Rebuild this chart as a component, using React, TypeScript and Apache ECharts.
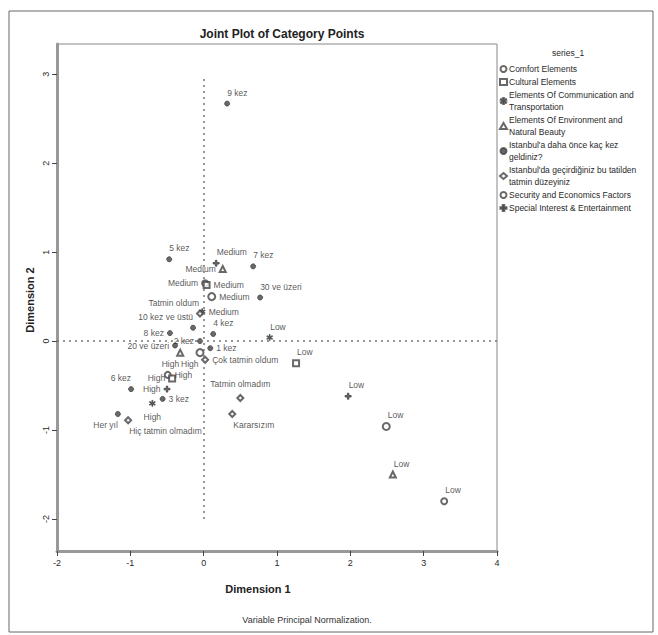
import React, { useEffect, useRef } from "react";
import * as echarts from "echarts";

const xTicks = [-2, -1, 0, 1, 2, 3, 4];
const yTicks = [-2, -1, 0, 1, 2, 3];

const seriesNames = [
  "Comfort Elements",
  "Cultural Elements",
  "Elements Of Communication and\nTransportation",
  "Elements Of Environment and\nNatural Beauty",
  "Istanbul'a daha önce kaç kez\ngeldiniz?",
  "Istanbul'da geçirdiğiniz bu tatilden\ntatmin düzeyiniz",
  "Security and Economics Factors",
  "Special Interest & Entertainment",
];

const lmh = ["Low", "Medium", "High"];

const comfortXY = [[3.28, -1.8], [0.02, 0.65], [-0.49, -0.38]];
const culturalXY = [[1.26, -0.25], [0.04, 0.63], [-0.43, -0.42]];
const communicationXY = [[0.9, 0.04], [-0.02, 0.33], [-0.7, -0.7]];
const environmentXY = [[2.58, -1.5], [0.26, 0.81], [-0.32, -0.13]];
const securityXY = [[2.49, -0.96], [0.11, 0.5], [-0.05, -0.13]];
const specialXY = [[1.97, -0.62], [0.17, 0.875], [-0.5, -0.54]];

const kezLabels = ["9 kez", "5 kez", "7 kez", "30 ve üzeri", "10 kez ve üstü", "4 kez", "8 kez", "20 ve üzeri", "2 kez", "1 kez", "3 kez", "6 kez", "Her yıl"];
const kezXY = [[0.32, 2.67], [-0.47, 0.92], [0.675, 0.84], [0.77, 0.49], [-0.145, 0.15], [0.13, 0.08], [-0.46, 0.09], [-0.39, -0.05], [-0.05, 0.0], [0.09, -0.08], [-0.56, -0.65], [-0.99, -0.54], [-1.17, -0.82]];

const tatminLabels = ["Tatmin oldum", "Çok tatmin oldum", "Tatmin olmadım", "Kararsızım", "Hiç tatmin olmadım"];
const tatminXY = [[-0.05, 0.31], [0.02, -0.21], [0.5, -0.64], [0.39, -0.82], [-1.03, -0.89]];

// label placement per point (layout only)
const comfortSide = ["tr", "l", "r"];
const culturalSide = ["tr", "r", "l"];
const communicationSide = ["tr", "r", "b"];
const environmentSide = ["tr", "l", "bl"];
const securitySide = ["tr", "r", "bl"];
const specialSide = ["tr", "tr", "l"];
const kezSide = ["tr", "tr", "tr", "tr", "tl", "tr", "l", "l", "l", "r", "r", "tl", "bl"];
const tatminSide = ["tl", "r", "t", "br", "br"];

const place: Record<string, any> = {
  tr: { position: "right", offset: [-8, -11] },
  tl: { position: "left", offset: [8, -11] },
  r: { position: "right", offset: [-2, 0] },
  l: { position: "left", offset: [2, 0] },
  t: { position: "top", offset: [0, -1] },
  b: { position: "bottom", offset: [0, 1] },
  br: { position: "right", offset: [-8, 11] },
  bl: { position: "left", offset: [8, 11] },
};

const FONT = "Liberation Sans, Arial, sans-serif";
const INK = "#444";
const TXT = "#2a2a2a";

const plusPath = "path://M3,0H5V3H8V5H5V8H3V5H0V3H3Z";
const starPath =
  "path://M3.5,0h1v3.2l2.8,-1.6l0.5,0.87l-2.8,1.6l2.8,1.6l-0.5,0.87l-2.8,-1.6v3.2h-1v-3.2l-2.8,1.6l-0.5,-0.87l2.8,-1.6l-2.8,-1.6l0.5,-0.87l2.8,1.6z";

function build(xy: number[][], labels: string[], sides: string[]) {
  return xy.map((p, i) => ({
    value: [p[0], p[1]],
    name: labels[i],
    label: { show: true, color: TXT, ...place[sides[i]] },
  }));
}

export default function App() {
  const ref = useRef<HTMLDivElement>(null);
  useEffect(() => {
    if (!ref.current) return;
    const chart = echarts.init(ref.current, undefined, { renderer: "svg" });
    const symbols = ["emptyCircle", "emptyRect", starPath, "emptyTriangle", "circle", "emptyDiamond", "emptyCircle", plusPath];
    const sizes = [6, 6, 6, 6, 5, 6, 7, 6];
    const datas = [
      build(comfortXY, lmh, comfortSide),
      build(culturalXY, lmh, culturalSide),
      build(communicationXY, lmh, communicationSide),
      build(environmentXY, lmh, environmentSide),
      build(kezXY, kezLabels, kezSide),
      build(tatminXY, tatminLabels, tatminSide),
      build(securityXY, lmh, securitySide),
      build(specialXY, lmh, specialSide),
    ];
    const series: any[] = seriesNames.map((n, i) => ({
      type: "scatter",
      name: n,
      symbol: symbols[i],
      symbolSize: sizes[i],
      data: datas[i],
      itemStyle: { color: INK, borderColor: INK, borderWidth: 1 },
      label: {
        show: true,
        formatter: (p: any) => p.name,
        color: TXT,
        fontSize: 8.5,
        fontFamily: FONT,
      },
      z: 3,
    }));
    series.push({
      type: "line",
      data: [],
      silent: true,
      markLine: {
        silent: true,
        symbol: "none",
        label: { show: false },
        lineStyle: { color: "#777", width: 1.5, type: [2, 4] },
        data: [
          [{ coord: [0, -2.0] }, { coord: [0, 2.95] }],
          [{ coord: [-2, 0] }, { coord: [4, 0] }],
        ],
      },
      z: 1,
    });

    chart.setOption({
      animation: false,
      backgroundColor: "#fff",
      title: {
        text: "Joint Plot of Category Points",
        left: 277,
        top: 23,
        textAlign: "center",
        textStyle: { fontFamily: FONT, fontSize: 12, fontWeight: "bold", color: "#222" },
      },
      legend: {
        orient: "vertical",
        left: 499,
        top: 63,
        padding: 0,
        itemWidth: 7,
        itemHeight: 6,
        itemGap: 1,
        data: seriesNames,
        textStyle: { fontFamily: FONT, fontSize: 8.5, color: TXT, lineHeight: 12, padding: [0, 0, 0, -3] },
        selectedMode: false,
      },
      grid: {
        left: 57,
        right: 161,
        top: 44,
        bottom: 84,
        show: true,
        borderColor: "#888",
        borderWidth: 1,
        backgroundColor: "#fff",
      },
      xAxis: {
        type: "value",
        min: -2,
        max: 4,
        interval: 1,
        axisLine: { show: true, onZero: false, lineStyle: { color: "#999", width: 3 } },
        axisTick: { show: true, length: 5, customValues: xTicks, lineStyle: { color: "#444" } },
        axisLabel: { color: TXT, fontSize: 9, fontFamily: FONT, margin: 7, customValues: xTicks },
        splitLine: { show: false },
      },
      yAxis: {
        type: "value",
        min: -2.36,
        max: 3.34,
        axisLine: { show: true, onZero: false, lineStyle: { color: "#999", width: 3 } },
        axisTick: { show: true, length: 5, customValues: yTicks, lineStyle: { color: "#444" } },
        axisLabel: { color: TXT, fontSize: 9, fontFamily: FONT, margin: 7, rotate: 90, customValues: yTicks },
        splitLine: { show: false },
      },
      graphic: [
        {
          type: "rect",
          shape: { x: 9, y: 11, width: 644, height: 621 },
          style: { fill: "none", stroke: "#666", lineWidth: 1 },
          z: -10,
        },
        {
          type: "text",
          left: 552,
          top: 48,
          style: { text: "series_1", fontFamily: FONT, fontSize: 8.5, fill: TXT },
        },
        {
          type: "text",
          x: 258,
          y: 589,
          style: { text: "Dimension 1", fontFamily: FONT, fontSize: 11, fontWeight: "bold", fill: "#222", align: "center", verticalAlign: "middle" },
        },
        {
          type: "text",
          x: 30,
          y: 300,
          rotation: Math.PI / 2,
          style: { text: "Dimension 2", fontFamily: FONT, fontSize: 11, fontWeight: "bold", fill: "#222", align: "center", verticalAlign: "middle" },
        },
        {
          type: "text",
          x: 307,
          y: 620,
          style: { text: "Variable Principal Normalization.", fontFamily: FONT, fontSize: 9, fill: "#333", align: "center", verticalAlign: "middle" },
        },
      ],
      series,
    });
    return () => chart.dispose();
  }, []);
  return <div ref={ref} style={{ position: "fixed", left: 0, top: 0, width: 658, height: 635 }} />;
}
